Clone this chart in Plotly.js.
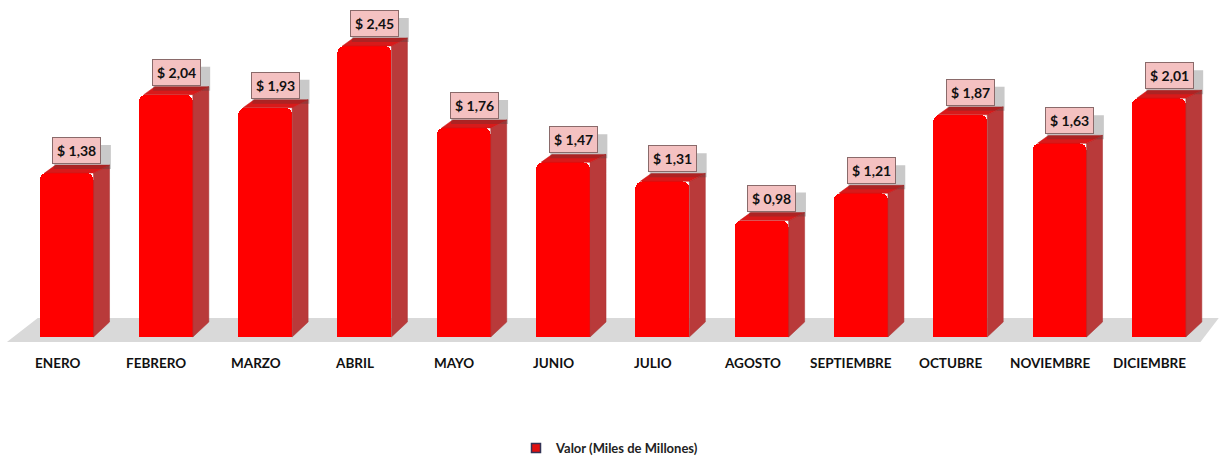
<!DOCTYPE html>
<html><head><meta charset="utf-8">
<script src="https://cdn.plot.ly/plotly-3.0.1.min.js"></script>
<style>html,body{margin:0;padding:0;background:#fff}#c{width:1220px;height:463px}</style>
</head><body><div id="c"></div>
<script>
const months = ['ENERO','FEBRERO','MARZO','ABRIL','MAYO','JUNIO','JULIO','AGOSTO','SEPTIEMBRE','OCTUBRE','NOVIEMBRE','DICIEMBRE'];
const values = [1.38, 2.04, 1.93, 2.45, 1.76, 1.47, 1.31, 0.98, 1.21, 1.87, 1.63, 2.01];
const seriesName = 'Valor (Miles de Millones)';

const idx = months.map((m,i)=>i);
const off = -0.176, w = 0.544;     // front face, in category units
const dx = 0.161, dyT = 0.067, dyB = 0.126; // depth of 3D side
const FONT = 'Lato, "Open Sans", sans-serif';

const traces = [];
const sx=[], sy=[], tx=[], ty=[];
values.forEach((v,i)=>{
  const xl = i+off, xr = i+off+w;
  sx.push(xr, xr+dx, xr+dx, xr, xr, null);
  sy.push(0, dyB, v+dyT, v, 0, null);
  tx.push(xl+0.05, xl+dx, xr+dx, xr, xl+0.05, null);
  ty.push(v, v+dyT, v+dyT, v, v, null);
});
traces.push({type:'scatter', x:sx, y:sy, fill:'toself', fillcolor:'#b93a3a', mode:'lines', line:{width:0.5,color:'#a83030'}, hoverinfo:'skip', showlegend:false});
traces.push({type:'scatter', x:tx, y:ty, fill:'toself', fillcolor:'#d81a1a', mode:'lines', line:{width:0.5,color:'#c81515'}, hoverinfo:'skip', showlegend:false});
traces.push({type:'bar', x:idx, y:values, width:w, offset:off, name:seriesName,
  marker:{color:'#ff0000', cornerradius:7, line:{width:0}}, showlegend:false});
traces.push({type:'scatter', mode:'markers', x:[null], y:[null], name:seriesName,
  marker:{symbol:'square', size:9, color:'#e01010', line:{color:'#333355', width:1.5}}, showlegend:true});

const annotations = [];
const shapes = [{type:'path', xref:'paper', yref:'y', layer:'below',
    path:'M 0.0057 -0.042 L 0.984 -0.042 L 0.999 0.16 L 0.031 0.16 Z', fillcolor:'#d9d9d9', line:{width:0}}];
values.forEach((v,i)=>{
  const t = '$ ' + v.toFixed(2).replace('.', ',');
  shapes.push({type:'rect', xref:'x', yref:'y', xsizemode:'pixel', ysizemode:'pixel', xanchor:i+0.2, yanchor:v,
    x0:-23, x1:34, y0:4, y1:28, fillcolor:'rgba(60,60,60,0.28)', line:{width:0}, layer:'above'});
  annotations.push({x:i+0.2, y:v, xref:'x', yref:'y', text:'<b>'+t+'</b>', showarrow:false, yanchor:'bottom',
    yshift:9, font:{family:FONT, size:14, color:'#111'},
    bgcolor:'#f4c1c1', bordercolor:'#8a6a6a', borderwidth:1, borderpad:4});
});
months.forEach((m,i)=>{
  annotations.push({x:i, y:-0.219, xref:'x', yref:'y', text:'<b>'+m+'</b>', showarrow:false, yanchor:'middle',
    font:{family:FONT, size:13.5, color:'#111'}});
});

const layout = {
  width:1220, height:463,
  margin:{l:0, r:0, t:0, b:0},
  paper_bgcolor:'#fff', plot_bgcolor:'#fff',
  showlegend:true,
  legend:{orientation:'h', x:0.5, xanchor:'center', y:0, yanchor:'bottom', itemwidth:20, bgcolor:'rgba(0,0,0,0)',
    font:{family:FONT, size:13, color:'#222', weight:'bold'}},
  xaxis:{range:[-0.574, 11.712], showticklabels:false, showgrid:false, zeroline:false, showline:false, ticks:'', fixedrange:true},
  yaxis:{range:[-1.0606, 2.8367], showgrid:false, zeroline:false, showticklabels:false, ticks:'', fixedrange:true},
  shapes: shapes,
  annotations: annotations,
  bargap:0
};
Plotly.newPlot('c', traces, layout, {displayModeBar:false, staticPlot:true});
</script></body></html>
